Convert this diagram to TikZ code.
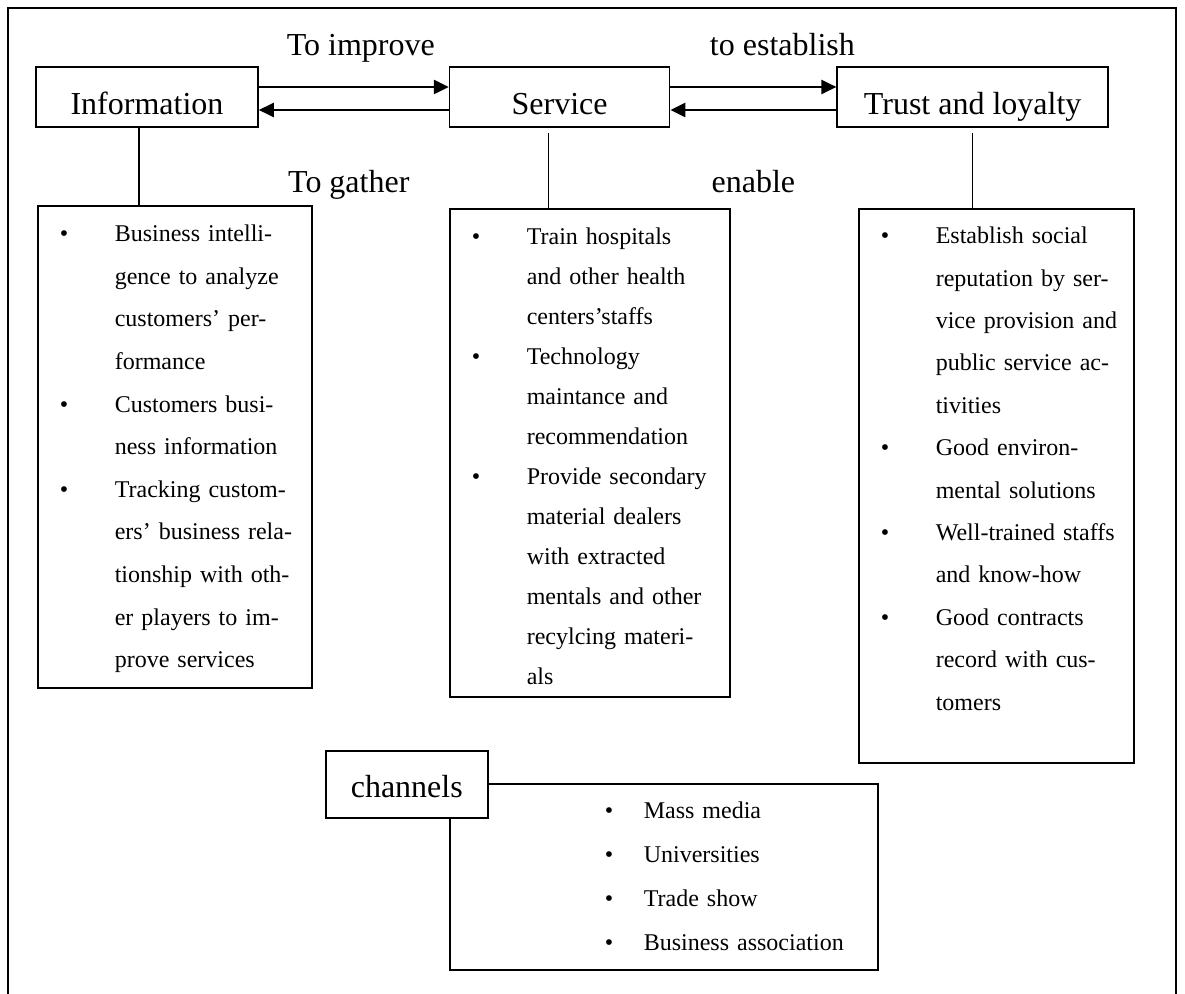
\documentclass[tikz,border=0pt]{standalone}
\usepackage{fontspec}
\setmainfont{Liberation Serif}
\usepackage{tikz}
\usetikzlibrary{arrows.meta, positioning}
\setlength{\parindent}{0pt}
\newcommand{\itembul}{\hspace*{11pt}\makebox[27.5pt][l]{\textbullet}}
\newcommand{\itemind}{\hspace*{38.5pt}}
\newcommand{\chanbul}{\hspace*{77.5pt}\makebox[19.5pt][l]{\textbullet}}

\begin{document}
\begin{tikzpicture}[
    x=0.5pt, y=-0.5pt,
    headbox/.style = {rectangle, draw, line width=0.8pt, inner sep=0pt, text height=24pt, text depth=6pt, font=\fontsize{16}{19}\selectfont},
    listbox/.style = {rectangle, draw, line width=0.8pt, inner sep=0pt, align=left, anchor=north west},
    linklabel/.style = {inner sep=0pt, text height=11pt, text depth=3.5pt, font=\fontsize{16}{19}\selectfont},
    arrow/.style = {line width=1.2pt, -{Triangle[length=7.5pt, width=7pt]}},
    link/.style = {line width=0.7pt},
    frame/.style = {line width=0.9pt}
]
    \useasboundingbox (0,0) rectangle (1185,994);
    \draw [frame] (8,994) -- (8,8) -- (1176,8) -- (1176,994);

    % Nodes
    \node (info) [headbox, minimum width=111pt] at (147,97) {Information};
    \node (service) [headbox, minimum width=110pt, right=95pt of info] {Service};
    \node (trust) [headbox, minimum width=135.5pt, right=83pt of service] {Trust and loyalty};

    \node (infolist) [listbox, text width=137pt, font=\fontsize{12}{21.3}\selectfont] at (37,205) {%
        \rule{0pt}{18pt}\itembul Business intelli-\\
        \itemind gence to analyze\\
        \itemind customers’ per-\\
        \itemind formance\\
        \itembul Customers busi-\\
        \itemind ness information\\
        \itembul Tracking custom-\\
        \itemind ers’ business rela-\\
        \itemind tionship with oth-\\
        \itemind er players to im-\\
        \itemind prove services\rule[-10pt]{0pt}{10pt}};
    \node (servicelist) [listbox, text width=140pt, font=\fontsize{12}{20}\selectfont] at (449,208) {%
        \rule{0pt}{18pt}\itembul Train hospitals\\
        \itemind and other health\\
        \itemind centers’staffs\\
        \itembul Technology\\
        \itemind maintance and\\
        \itemind recommendation\\
        \itembul Provide secondary\\
        \itemind material dealers\\
        \itemind with extracted\\
        \itemind mentals and other\\
        \itemind recylcing materi-\\
        \itemind als\rule[-6pt]{0pt}{6pt}};
    \node (trustlist) [listbox, text width=137.5pt, font=\fontsize{12}{21.2}\selectfont] at (858,208) {%
        \rule{0pt}{17.5pt}\itembul Establish social\\
        \itemind reputation by ser-\\
        \itemind vice provision and\\
        \itemind public service ac-\\
        \itemind tivities\\
        \itembul Good environ-\\
        \itemind mental solutions\\
        \itembul Well-trained staffs\\
        \itemind and know-how\\
        \itembul Good contracts\\
        \itemind record with cus-\\
        \itemind tomers\rule[-26.3pt]{0pt}{26.3pt}};

    \node (chanlist) [listbox, text width=214pt, font=\fontsize{12}{22}\selectfont] at (449,783) {%
        \rule{0pt}{17.5pt}\chanbul Mass media\\
        \chanbul Universities\\
        \chanbul Trade show\\
        \chanbul Business association\rule[-9.5pt]{0pt}{9.5pt}};
    \node (channels) [headbox, minimum width=81pt, text height=23.5pt, text depth=10pt, fill=white, anchor=north west] at (325,750) {channels};

    % Arrows
    \draw [arrow] ([yshift=5pt]info.east) -- ([yshift=5pt]info.east -| service.west)
        node [linklabel, midway, above=11.5pt, xshift=3.5pt] {To improve};
    \draw [arrow] ([yshift=-6.5pt]service.west) -- ([yshift=-6.5pt]service.west -| info.east)
        node [linklabel, midway, below=29.5pt, xshift=-2.5pt] {To gather};
    \draw [arrow] ([yshift=5pt]service.east) -- ([yshift=5pt]service.east -| trust.west)
        node [linklabel, midway, above=11.5pt, xshift=14.5pt] {to establish};
    \draw [arrow] ([yshift=-6.5pt]trust.west) -- ([yshift=-6.5pt]trust.west -| service.east)
        node [linklabel, midway, below=29.5pt] {enable};

    % Links
    \draw [link] ([xshift=-4pt]info.south) -- ([xshift=-4pt]info.south |- infolist.north);
    \draw [link] ([xshift=-5.5pt, yshift=-2.5pt]service.south) -- ([xshift=-5.5pt]service.south |- servicelist.north);
    \draw [link] ([yshift=-2.5pt]trust.south) -- (trust.south |- trustlist.north);

\end{tikzpicture}
\end{document}
